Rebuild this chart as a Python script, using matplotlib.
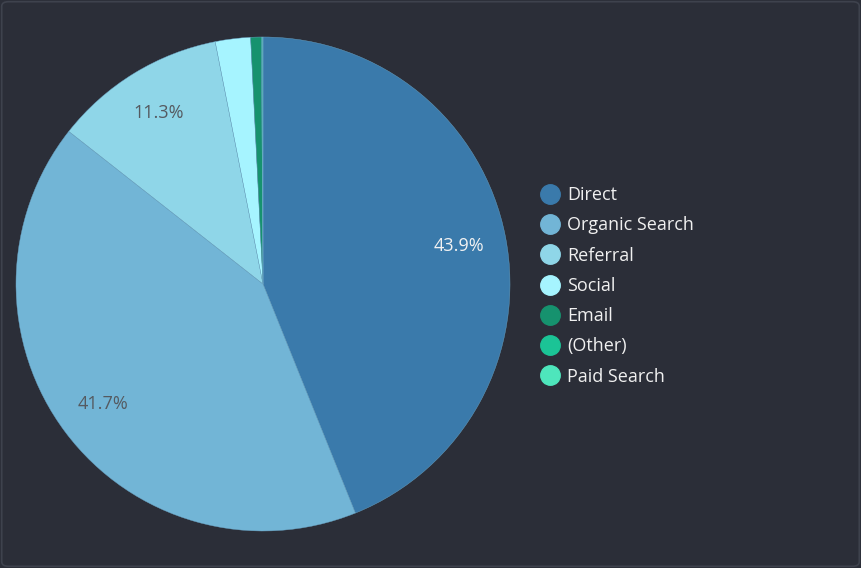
import matplotlib.pyplot as plt
from matplotlib.lines import Line2D
from matplotlib.patches import FancyBboxPatch

channels = ['Direct', 'Organic Search', 'Referral', 'Social', 'Email', '(Other)', 'Paid Search']
shares = [43.9, 41.7, 11.3, 2.3, 0.7, 0.07, 0.03]
colors = ['#3a7aab', '#72b5d6', '#8fd6e8', '#a6f4ff', '#16926e', '#1bc496', '#4ee6bc']

bg = '#2b2e38'
plt.rcParams['font.family'] = ['Open Sans', 'DejaVu Sans']

fig = plt.figure(figsize=(8.61, 5.68), dpi=100)
fig.patch.set_facecolor(bg)
ax = fig.add_axes([0, 0, 1, 1])
ax.set_facecolor(bg)


def fmt(p):
    return '%.1f%%' % p if p > 5 else ''


wedges, texts, autotexts = ax.pie(
    shares, colors=colors, startangle=90, counterclock=False,
    center=(263, 284), radius=247, autopct=fmt, pctdistance=0.81,
    wedgeprops={'linewidth': 0.3, 'edgecolor': '#6aa3c4'},
    textprops={'fontsize': 13}, frame=True)
ax.axis('off')
ax.set_xlim(0, 861)
ax.set_ylim(0, 568)
ax.set_aspect('equal')

for i, t in enumerate(autotexts):
    t.set_color('#f2f2f2' if i == 0 else '#555a60')

handles = [Line2D([0], [0], marker='o', linestyle='', markersize=14,
                  markerfacecolor=c, markeredgecolor=c) for c in colors]
leg = ax.legend(handles, channels, loc='upper left',
                bbox_to_anchor=(530 / 861, 1 - 177 / 568),
                frameon=False, fontsize=13, handletextpad=0.35,
                labelspacing=0.68, handlelength=1.2, borderpad=0)
for t in leg.get_texts():
    t.set_color('#f0f0f0')

border = FancyBboxPatch((0.002, 0.003), 0.996, 0.994, boxstyle='round,pad=0,rounding_size=0.008',
                        transform=fig.transFigure, facecolor='none',
                        edgecolor='#3e424d', linewidth=1.2)
fig.patches.append(border)

fig.savefig('out.png', dpi=100, facecolor=bg)
